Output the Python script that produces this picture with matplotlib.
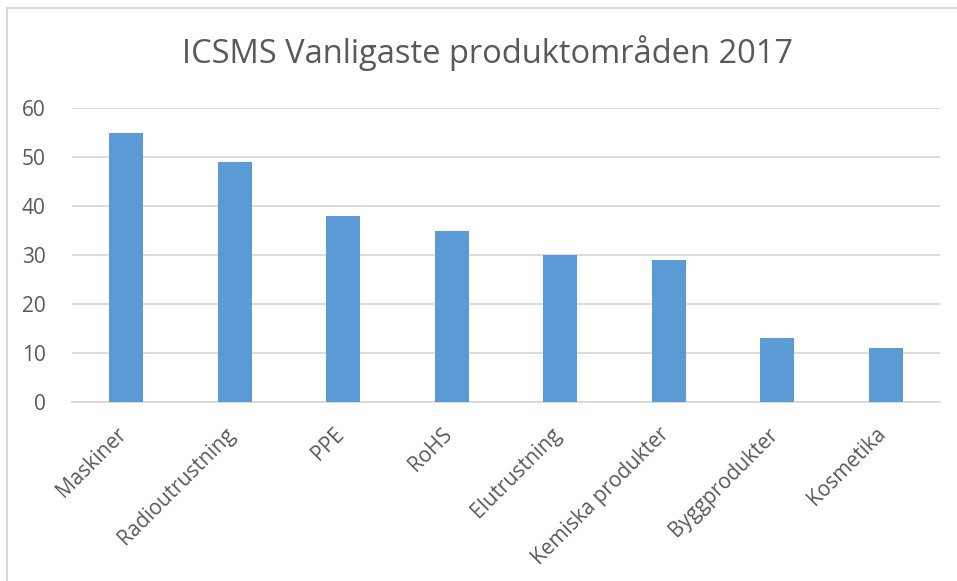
import matplotlib.pyplot as plt
from matplotlib.lines import Line2D
from matplotlib.transforms import ScaledTranslation

categories = ["Maskiner", "Radioutrustning", "PPE", "RoHS", "Elutrustning",
              "Kemiska produkter", "Byggprodukter", "Kosmetika"]
values = [55, 49, 38, 35, 30, 29, 13, 11]
yticks = [0, 10, 20, 30, 40, 50, 60]

plt.rcParams['font.family'] = ['Open Sans', 'DejaVu Sans']
grey = '#595959'
gridc = '#D9D9D9'

fig = plt.figure(figsize=(9.57, 5.81), dpi=100)
ax = fig.add_axes([0.0752, 0.308, 0.9070, 0.506])

x = range(len(categories))
ax.bar(x, values, width=0.31, color='#5B9BD5', zorder=3)

ax.set_xlim(-0.5, len(categories) - 0.5)
ax.set_ylim(0, 60)
ax.set_yticks(yticks)
ax.set_yticklabels([str(v) for v in yticks], fontsize=15, color=grey)
ax.set_xticks(list(x))
ax.set_xticklabels(categories, fontsize=15, color=grey, rotation=45,
                   ha='right', va='top', rotation_mode='anchor')
ax.tick_params(axis='both', length=0)
ax.tick_params(axis='y', pad=19)
ax.tick_params(axis='x', pad=14)
# nudge the rotated labels so their ends sit under the bars
shift = ScaledTranslation(-0.10, -0.02, fig.dpi_scale_trans)
for lab in ax.get_xticklabels():
    lab.set_transform(lab.get_transform() + shift)
ax.grid(axis='y', color=gridc, linewidth=1.3, zorder=0)
for s in ['top', 'right', 'left']:
    ax.spines[s].set_visible(False)
ax.spines['bottom'].set_color(gridc)
ax.spines['bottom'].set_linewidth(1.3)

fig.text(0.509, 0.908, "ICSMS Vanligaste produktområden 2017", ha='center',
         va='center', fontsize=23.5, color=grey)

# chart border (only top and left edges visible in the crop)
fig.add_artist(Line2D([7 / 957, 1], [1 - 8 / 581, 1 - 8 / 581],
                      transform=fig.transFigure, color=gridc, linewidth=1.5))
fig.add_artist(Line2D([7 / 957, 7 / 957], [0, 1 - 8 / 581],
                      transform=fig.transFigure, color=gridc, linewidth=1.5))

fig.savefig('out.png', dpi=100)
